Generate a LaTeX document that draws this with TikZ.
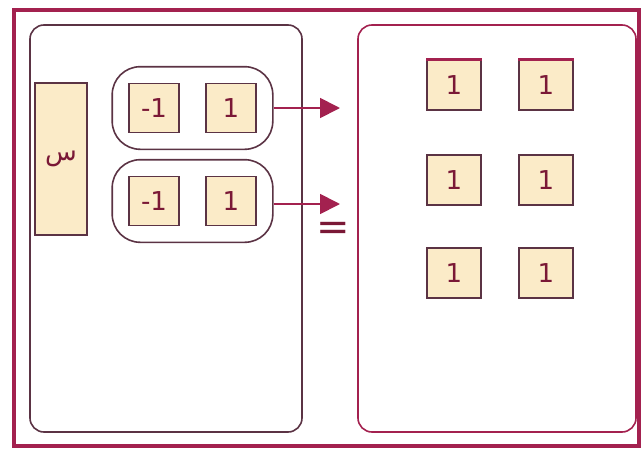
\documentclass[tikz,border=0pt]{standalone}
\usepackage{fontspec}
\setmainfont{DejaVu Sans}
\newfontfamily\arabicfont[Script=Arabic]{DejaVu Sans}
\TeXXeTstate=1
\usepackage{tikz}
\usetikzlibrary{arrows.meta, fit}

\definecolor{framered}{HTML}{A3214F}
\definecolor{boxedge}{HTML}{5B3344}
\definecolor{boxfill}{HTML}{FBEBC8}
\definecolor{numred}{HTML}{7A1836}

\begin{document}
\begin{tikzpicture}[x=0.5pt, y=-0.5pt, font=\fontsize{13}{15}\selectfont,
  tile/.style={draw=boxedge, line width=0.8pt, fill=boxfill, text=numred,
    minimum width=25pt, minimum height=24.5pt, inner sep=0pt},
  pair/.style={draw=boxedge, line width=0.8pt, rounded corners=14pt, inner sep=8pt},
  link/.style={framered, line width=0.9pt, -{Triangle[length=10pt, width=10pt]}}]
  \useasboundingbox (0,0) rectangle (644,450);
  % frame and panels
  \draw[framered, line width=2pt] (14,10) rectangle (639,446);
  \draw[boxedge, line width=0.8pt, rounded corners=7pt] (30,25) rectangle (302,432);
  \draw[framered, line width=0.8pt, rounded corners=7pt] (358,25) rectangle (636,432);
  % left side
  \node[tile, minimum width=26pt, minimum height=76pt] (sin) at (61,159)
    {\arabicfont\beginR س\endR};
  \node[tile] (m1) at (154,108) {-1};
  \node[tile] (p1) at (231,108) {1};
  \node[tile] (m2) at (154,201) {-1};
  \node[tile] (p2) at (231,201) {1};
  \node[pair, fit=(m1)(p1)] (g1) {};
  \node[pair, fit=(m2)(p2)] (g2) {};
  \coordinate (e1) at (340,108);
  \coordinate (e2) at (340,204);
  \draw[link] (g1.east) -- (e1);
  \draw[link] (g2.east |- e2) -- (e2);
  \node[text=numred, font=\fontsize{20}{20}\selectfont] (eq) at (333,231) {=};
  % right side
  \foreach \row/\y in {1/85, 2/180, 3/273} {
    \node[tile, minimum width=27pt, minimum height=25pt] (a\row) at (454,\y) {1};
    \node[tile, minimum width=27pt, minimum height=25pt] (b\row) at (546,\y) {1};
  }
  \draw[framered, line width=1.6pt] (a1.north west) -- (a1.north east);
  \draw[framered, line width=1.6pt] (b1.north west) -- (b1.north east);
\end{tikzpicture}
\end{document}
